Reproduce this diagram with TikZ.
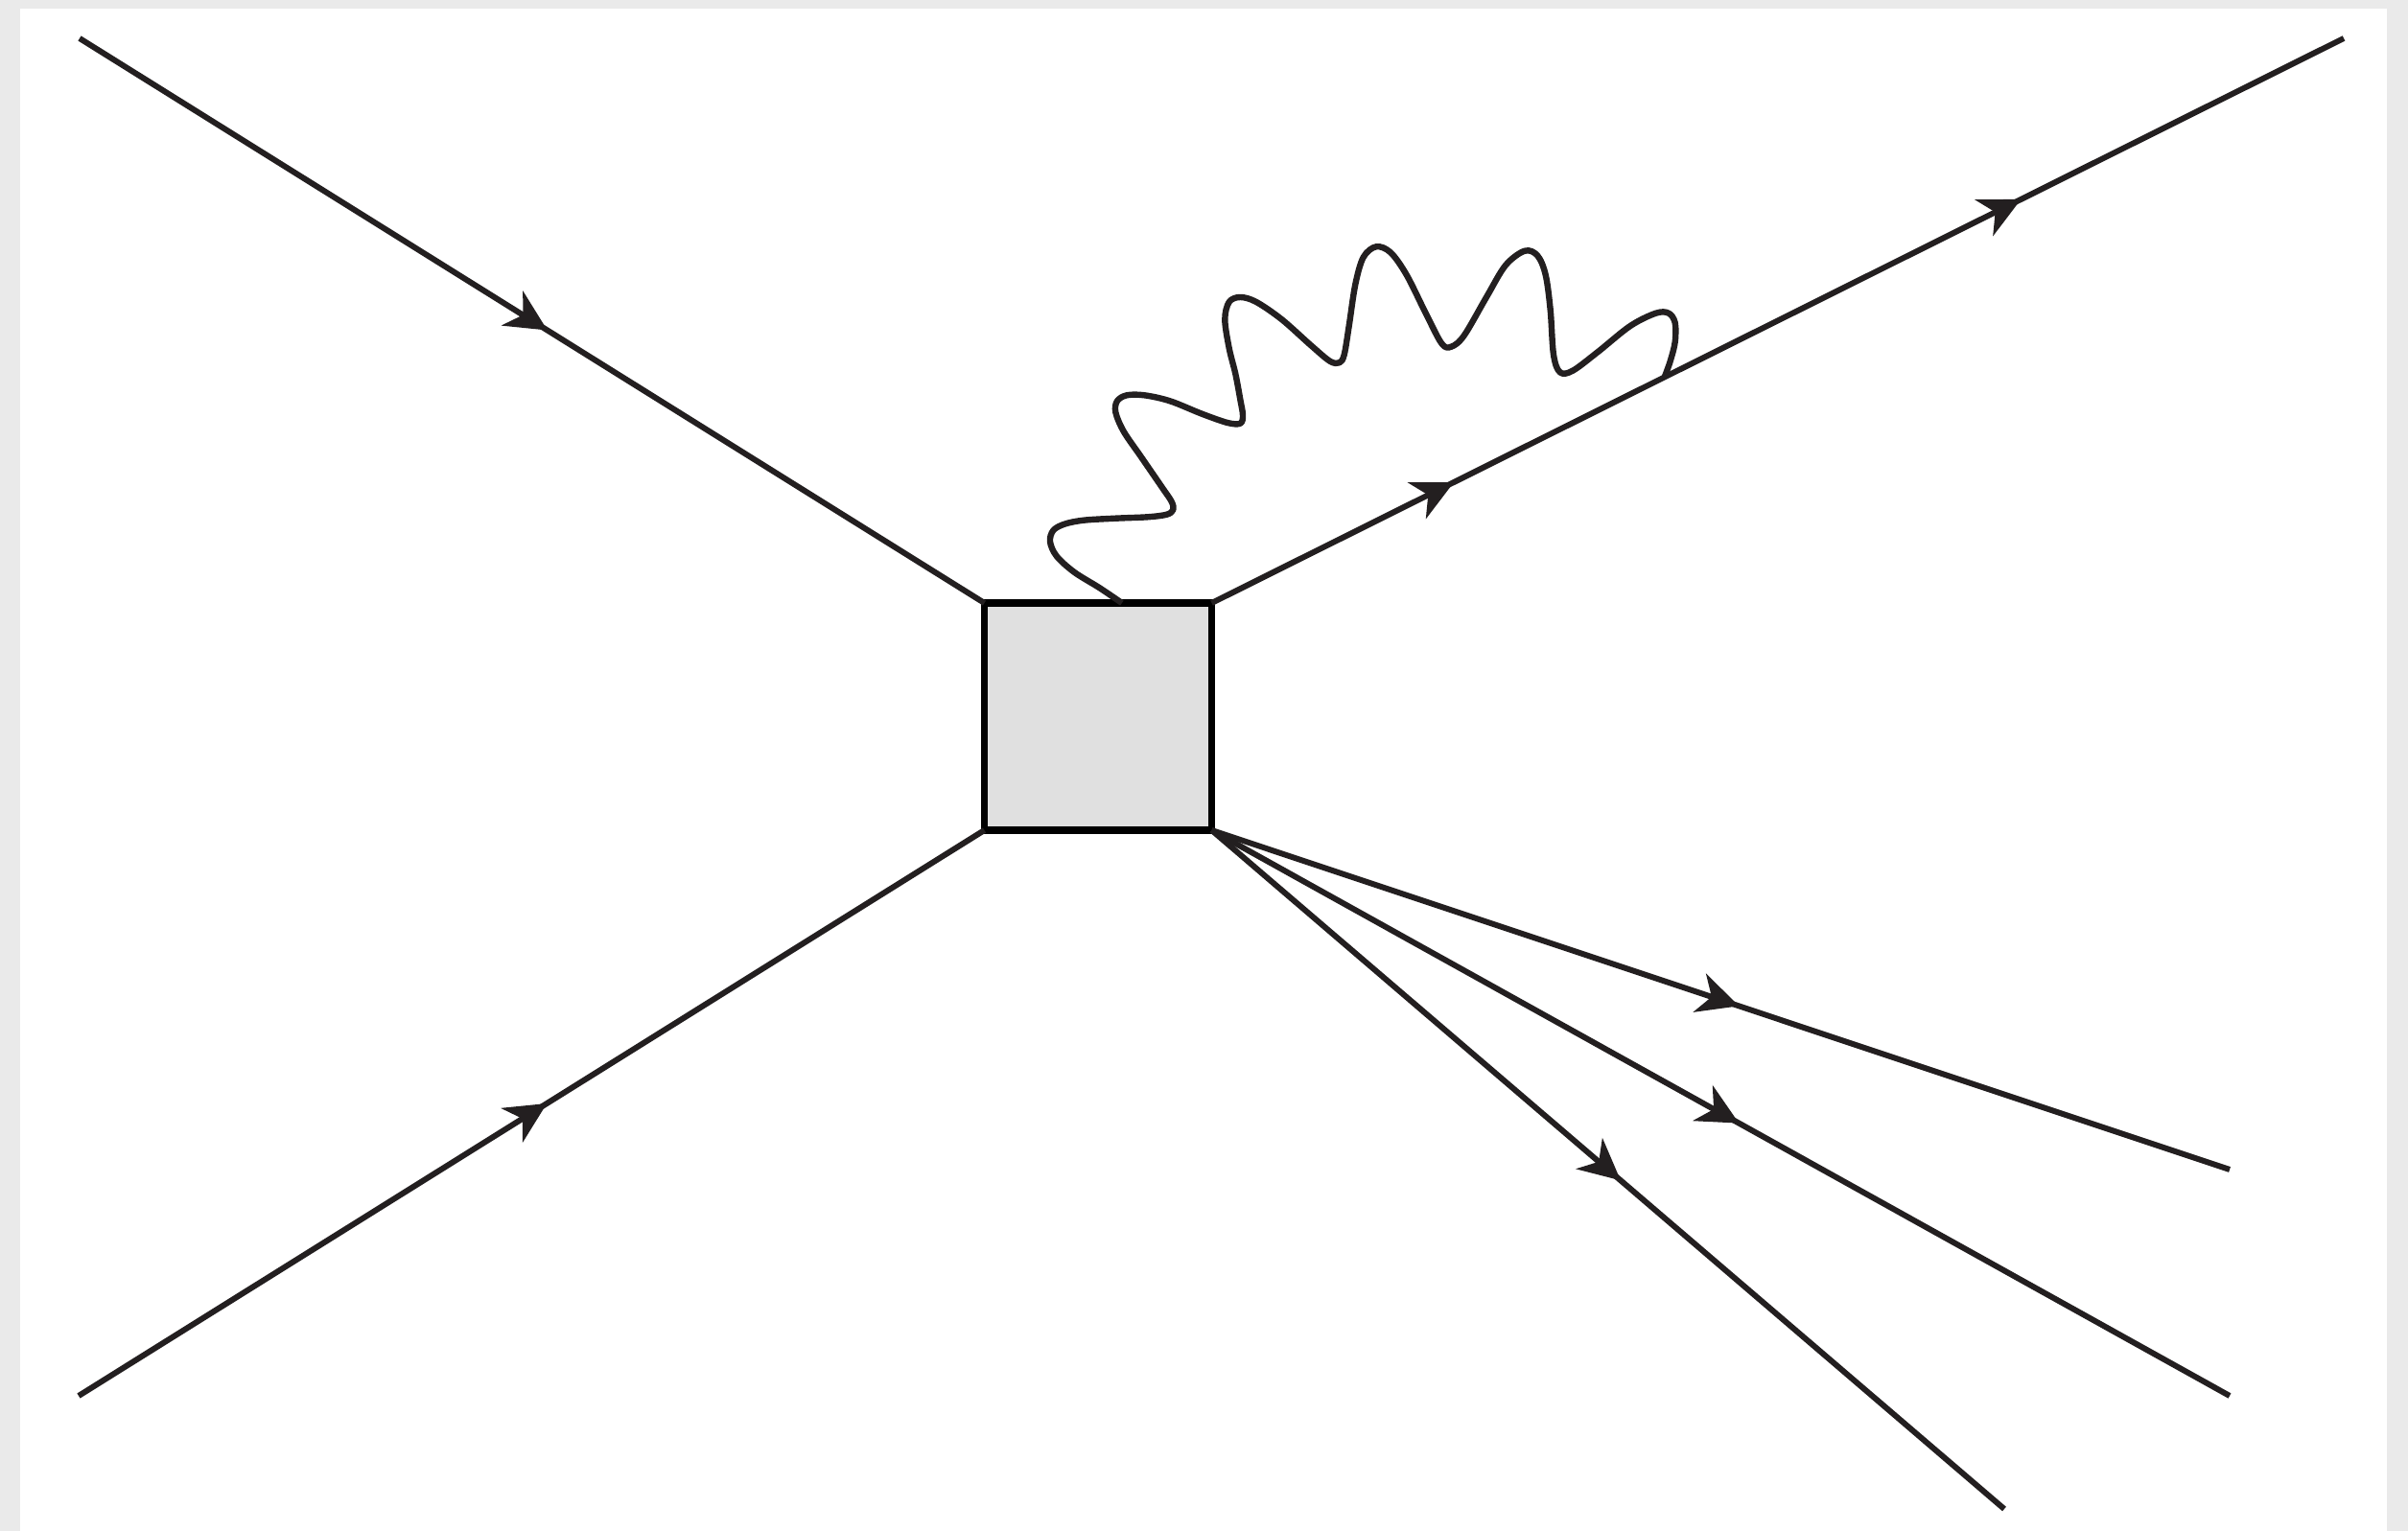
\documentclass[tikz,border=0pt]{standalone}
\usetikzlibrary{arrows.meta,decorations.markings,calc}
\definecolor{ink}{HTML}{231F20}
\definecolor{boxfill}{HTML}{E0E0E0}
\definecolor{framegray}{HTML}{EAEAEA}
\tikzset{
  fermion/.style={draw=ink, line width=0.06cm},
  arrone/.style={postaction={decorate}, decoration={markings,
      mark=at position #1 with {\arrow{Stealth[length=0.43cm, width=0.42cm, inset=0.13cm]}}}},
  arrtwo/.style 2 args={postaction={decorate}, decoration={markings,
      mark=at position #1 with {\arrow{Stealth[length=0.43cm, width=0.42cm, inset=0.13cm]}},
      mark=at position #2 with {\arrow{Stealth[length=0.43cm, width=0.42cm, inset=0.13cm]}}}},
  blob/.style={draw=black, fill=boxfill, line width=0.072cm, minimum width=2.37cm,
      minimum height=2.37cm, inner sep=0pt, outer sep=0pt},
  photon/.style={draw=ink, line width=0.064cm, line join=round}
}
\begin{document}
\begin{tikzpicture}
\fill[framegray] (0,0) rectangle (25.11,-15.97);
\fill[white] (0.21,-0.09) rectangle (24.89,-15.97);
\useasboundingbox (0,0) rectangle (25.11,-15.97);

\node[blob] (box) at (11.45,-7.475) {};

\coordinate (a) at (0.83,-0.40);
\coordinate (b) at (0.82,-14.56);
\coordinate (c) at (24.44,-0.40);
\coordinate (d) at (23.25,-12.20);
\coordinate (e) at (23.25,-14.56);
\coordinate (f) at (20.90,-15.74);

\draw[fermion, arrone=0.517] (a) -- (box.north west);
\draw[fermion, arrone=0.517] (b) -- (box.south west);
\draw[fermion, arrtwo={0.214}{0.715}] (box.north east) -- (c);
\draw[fermion, arrone=0.518] (box.south east) -- (d);
\draw[fermion, arrone=0.518] (box.south east) -- (e);
\draw[fermion, arrone=0.516] (box.south east) -- (f);

\coordinate (ws) at ($(box.north west)!0.605!(box.north east)$);
\coordinate (we) at ($(box.north east)!0.40!(c)$);
\draw[photon] plot[smooth, tension=0.55] coordinates {
  (ws) (11.467,-6.133) (11.20,-5.967) (11.017,-5.80) (10.95,-5.65)
  (10.983,-5.533) (11.10,-5.467) (11.30,-5.427) (11.633,-5.407)
  (11.967,-5.393) (12.167,-5.367) (12.233,-5.317) (12.217,-5.233)
  (12.117,-5.083) (11.90,-4.767) (11.717,-4.50) (11.633,-4.30)
  (11.65,-4.183) (11.75,-4.123) (11.933,-4.123) (12.20,-4.183)
  (12.533,-4.317) (12.80,-4.41) (12.933,-4.417) (12.96,-4.333)
  (12.933,-4.167) (12.883,-3.90) (12.817,-3.633) (12.773,-3.333)
  (12.817,-3.15) (12.933,-3.10) (13.10,-3.15) (13.367,-3.333)
  (13.667,-3.60) (13.867,-3.767) (13.967,-3.783) (14.017,-3.70)
  (14.067,-3.40) (14.133,-2.967) (14.217,-2.683) (14.35,-2.573)
  (14.50,-2.633) (14.667,-2.867) (14.867,-3.267) (15.033,-3.583)
  (15.133,-3.617) (15.267,-3.50) (15.50,-3.10) (15.70,-2.767)
  (15.90,-2.617) (16.033,-2.667) (16.117,-2.867) (16.167,-3.233)
  (16.20,-3.70) (16.267,-3.883) (16.40,-3.867) (16.667,-3.667)
  (17.00,-3.40) (17.267,-3.267) (17.40,-3.267) (17.467,-3.367)
  (17.467,-3.567) (17.417,-3.767) (we)};
\end{tikzpicture}
\end{document}
